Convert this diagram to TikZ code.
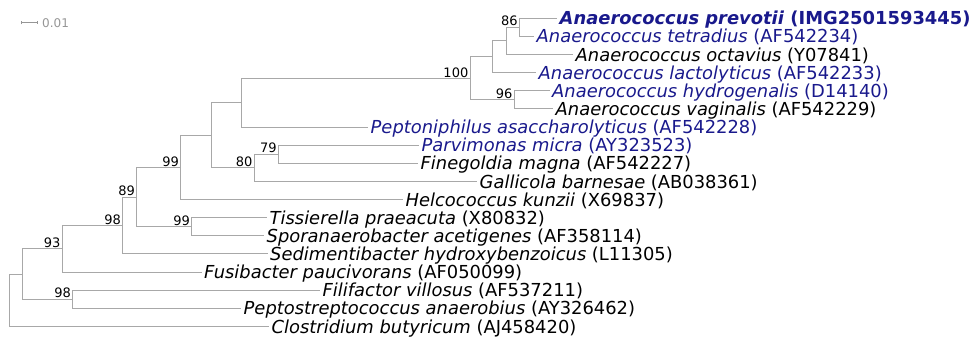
\documentclass[tikz,border=0pt]{standalone}
\usepackage{fontspec}
\setmainfont{DejaVu Sans}
\usetikzlibrary{arrows.meta}
\definecolor{branchgray}{RGB}{168,168,168}
\definecolor{taxonblue}{RGB}{25,25,140}
\definecolor{scalegray}{RGB}{150,150,150}
\begin{document}
\begin{tikzpicture}[x=1pt, y=-1pt,
  branch/.style={draw=branchgray, line width=1pt},
  taxon/.style={anchor=west, inner xsep=2.5pt, inner ysep=0pt, text height=13.1pt, text depth=0pt, font=\fontsize{17.9}{20}\selectfont},
  typed/.style={text=taxonblue},
  boot/.style={anchor=south east, inner sep=0pt, xshift=-1.5pt, yshift=1pt, font=\fontsize{13}{15}\selectfont}]
\useasboundingbox (0,0) rectangle (972,339);

% scale bar
\coordinate (sbl) at (21,22.7);
\coordinate (sbr) at (38,22.7);
\draw[scalegray, line width=0.8pt, {Bar[width=3.5pt]}-{Bar[width=3.5pt]}] (sbl) -- (sbr);
\node[anchor=west, inner sep=0pt, text=scalegray, font=\fontsize{12}{14}\selectfont] (sbtext) at (42,23.3) {0.01};

% leaves
\node[taxon, typed] (prevotii) at (557,18.3) {\textbf{\textit{Anaerococcus prevotii} (IMG2501593445)}};
\node[taxon, typed] (tetradius) at (534,36.4) {\textit{Anaerococcus tetradius} (AF542234)};
\node[taxon] (octavius) at (573,54.6) {\textit{Anaerococcus octavius} (Y07841)};
\node[taxon, typed] (lactolyticus) at (536,72.7) {\textit{Anaerococcus lactolyticus} (AF542233)};
\node[taxon, typed] (hydrogenalis) at (549.5,90.8) {\textit{Anaerococcus hydrogenalis} (D14140)};
\node[taxon] (vaginalis) at (553,109.0) {\textit{Anaerococcus vaginalis} (AF542229)};
\node[taxon, typed] (peptoniphilus) at (368,127.1) {\textit{Peptoniphilus asaccharolyticus} (AF542228)};
\node[taxon, typed] (parvimonas) at (419,145.2) {\textit{Parvimonas micra} (AY323523)};
\node[taxon] (finegoldia) at (418,163.3) {\textit{Finegoldia magna} (AF542227)};
\node[taxon] (gallicola) at (477,181.5) {\textit{Gallicola barnesae} (AB038361)};
\node[taxon] (helcococcus) at (403,199.6) {\textit{Helcococcus kunzii} (X69837)};
\node[taxon] (tissierella) at (267,217.7) {\textit{Tissierella praeacuta} (X80832)};
\node[taxon] (sporanaerobacter) at (264,235.9) {\textit{Sporanaerobacter acetigenes} (AF358114)};
\node[taxon] (sedimentibacter) at (267.5,254.0) {\textit{Sedimentibacter hydroxybenzoicus} (L11305)};
\node[taxon] (fusibacter) at (201.5,272.1) {\textit{Fusibacter paucivorans} (AF050099)};
\node[taxon] (filifactor) at (320,290.3) {\textit{Filifactor villosus} (AF537211)};
\node[taxon] (peptostreptococcus) at (241,308.4) {\textit{Peptostreptococcus anaerobius} (AY326462)};
\node[taxon] (clostridium) at (269,326.5) {\textit{Clostridium butyricum} (AJ458420)};

% inner nodes
\coordinate (n86) at (519.3,27.35);
\coordinate (ne) at (506,41.0);
\coordinate (nd) at (492.3,56.85);
\coordinate (n96) at (514,99.9);
\coordinate (n100) at (470,78.4);
\coordinate (nc) at (241,102.75);
\coordinate (n79) at (278.3,154.25);
\coordinate (n80) at (254,167.9);
\coordinate (nb) at (211.7,135.3);
\coordinate (n99a) at (180.7,167.45);
\coordinate (n99b) at (191.7,226.8);
\coordinate (n89) at (136.7,197.1);
\coordinate (n98a) at (122.7,225.55);
\coordinate (n93) at (62,248.8);
\coordinate (n98b) at (72.7,299.35);
\coordinate (na) at (22.7,274.1);
\coordinate (root) at (9.3,300.3);

% branches
\draw[branch] (n86) |- (prevotii.west);
\draw[branch] (n86) |- (tetradius.west);
\draw[branch] (ne) |- (n86);
\draw[branch] (ne) |- (octavius.west);
\draw[branch] (nd) |- (ne);
\draw[branch] (nd) |- (lactolyticus.west);
\draw[branch] (n96) |- (hydrogenalis.west);
\draw[branch] (n96) |- (vaginalis.west);
\draw[branch] (n100) |- (nd);
\draw[branch] (n100) |- (n96);
\draw[branch] (nc) |- (n100);
\draw[branch] (nc) |- (peptoniphilus.west);
\draw[branch] (n79) |- (parvimonas.west);
\draw[branch] (n79) |- (finegoldia.west);
\draw[branch] (n80) |- (n79);
\draw[branch] (n80) |- (gallicola.west);
\draw[branch] (nb) |- (nc);
\draw[branch] (nb) |- (n80);
\draw[branch] (n99a) |- (nb);
\draw[branch] (n99a) |- (helcococcus.west);
\draw[branch] (n99b) |- (tissierella.west);
\draw[branch] (n99b) |- (sporanaerobacter.west);
\draw[branch] (n89) |- (n99a);
\draw[branch] (n89) |- (n99b);
\draw[branch] (n98a) |- (n89);
\draw[branch] (n98a) |- (sedimentibacter.west);
\draw[branch] (n93) |- (n98a);
\draw[branch] (n93) |- (fusibacter.west);
\draw[branch] (n98b) |- (filifactor.west);
\draw[branch] (n98b) |- (peptostreptococcus.west);
\draw[branch] (na) |- (n93);
\draw[branch] (na) |- (n98b);
\draw[branch] (root) |- (na);
\draw[branch] (root) |- (clostridium.west);

% bootstrap values
\node[boot] (b86) at (n86) {86};
\node[boot] (b100) at (n100) {100};
\node[boot] (b96) at (n96) {96};
\node[boot] (b79) at (n79) {79};
\node[boot] (b80) at (n80) {80};
\node[boot] (b99a) at (n99a) {99};
\node[boot] (b99b) at (n99b) {99};
\node[boot] (b89) at (n89) {89};
\node[boot] (b98a) at (n98a) {98};
\node[boot] (b93) at (n93) {93};
\node[boot] (b98b) at (n98b) {98};
\end{tikzpicture}
\end{document}
